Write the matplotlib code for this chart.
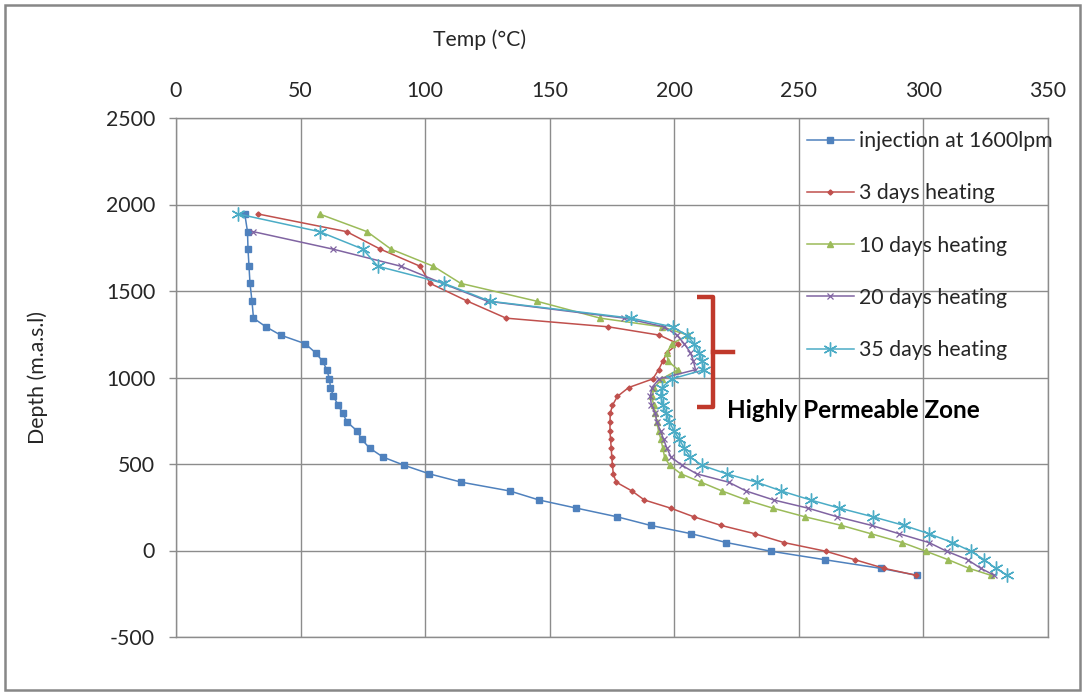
import matplotlib
matplotlib.use("Agg")
import matplotlib.pyplot as plt
from matplotlib.patches import Rectangle

plt.rcParams['font.family'] = ['Lato', 'DejaVu Sans']
plt.rcParams['axes.unicode_minus'] = False

# depth (m.a.s.l) shared by every profile
depth = [1945, 1843, 1742, 1643, 1544, 1441, 1343, 1293, 1245, 1195, 1143,
         1094, 1045, 992, 942, 891, 840, 793, 742, 690, 643, 592, 540, 493,
         443, 395, 344, 292, 245, 195, 145, 97, 46, -4, -53, -103, -143]

inj_1600 = [27.6, 28.7, 28.9, 29.3, 29.7, 30.5, 31.1, 36.1, 42.0, 51.9, 56.0,
            58.9, 60.5, 61.6, 62.0, 63.2, 65.1, 66.9, 68.7, 72.8, 74.5, 77.7,
            83.1, 91.5, 101.7, 114.5, 134.0, 145.7, 160.7, 177.0, 190.5, 206.8,
            220.9, 238.7, 260.3, 282.8, 297.3]
heat_3d = [33.0, 68.5, 82.0, 98.0, 102.0, 117.0, 132.5, 173.5, 194.0, 201.5,
           197.0, 195.4, 193.7, 191.4, 181.7, 177.2, 175.2, 174.3, 174.2,
           174.2, 174.4, 174.7, 174.9, 175.2, 175.5, 176.7, 183.0, 188.0,
           198.5, 207.8, 218.8, 232.3, 244.0, 260.7, 272.4, 284.2, 296.9]
heat_10d = [57.6, 76.7, 86.3, 103.3, 114.3, 144.8, 170.3, 195.0, 205.5, 199.0,
            197.0, 197.5, 201.5, 195.0, 192.0, 191.0, 191.7, 192.4, 193.0,
            193.7, 194.6, 195.4, 196.1, 198.1, 202.7, 210.7, 219.2, 228.9,
            239.5, 252.4, 267.1, 278.9, 291.5, 300.9, 309.9, 318.3, 327.0]
# 20 days profile starts one station lower
heat_20d = [31.0, 63.0, 90.3, 107.0, 125.0, 180.0, 196.0, 201.0, 204.0,
            206.5, 207.7, 208.5, 194.0, 191.0, 190.4, 190.8, 192.4, 193.0,
            194.5, 195.7, 197.0, 198.7, 203.0, 209.0, 221.8, 228.8, 239.9,
            253.6, 265.4, 279.2, 290.2, 302.2, 309.3, 317.7, 323.0, 328.4]
heat_35d = [25.0, 57.6, 75.0, 81.0, 107.6, 126.0, 182.7, 199.3, 205.0, 208.0,
            210.0, 211.0, 212.0, 199.0, 195.0, 194.5, 195.5, 196.8, 198.0,
            200.0, 202.0, 204.0, 206.4, 211.0, 221.0, 233.0, 243.0, 254.7,
            266.3, 279.7, 292.2, 302.2, 311.6, 319.0, 324.4, 329.0, 333.7]

labels = ['injection at 1600lpm', '3 days heating', '10 days heating',
          '20 days heating', '35 days heating']

FS = 15.3
GRID = '#8c8c8c'
TXT = '#262626'

fig = plt.figure(figsize=(10.89, 7.0), dpi=100)
ax = fig.add_axes([176 / 1089, 1 - 637 / 700, (1048 - 176) / 1089, (637 - 118) / 700])

ax.plot(inj_1600, depth, color='#4F81BD', lw=1.1, marker='s', ms=4.3, label=labels[0])
ax.plot(heat_3d, depth, color='#C0504D', lw=1.1, marker='D', ms=2.6, label=labels[1])
ax.plot(heat_10d, depth, color='#9BBB59', lw=1.1, marker='^', ms=4.0, label=labels[2])
ax.plot(heat_20d, depth[1:], color='#8064A2', lw=1.1, marker='x', ms=4.5, mew=0.9,
        label=labels[3])
ax.plot(heat_35d, depth, color='#4BACC6', lw=1.1, marker=(6, 2, 0), ms=10, mew=1.0,
        label=labels[4])

ax.set_xlim(0, 350)
ax.set_ylim(-500, 2500)
ax.set_xticks(range(0, 351, 50))
ax.set_yticks(range(-500, 2501, 500))
ax.xaxis.tick_top()
ax.tick_params(axis='x', length=0, pad=12.5, labelsize=FS)
ax.tick_params(axis='y', length=5, width=1, color=GRID, pad=10, labelsize=FS)
for lab in ax.get_xticklabels() + ax.get_yticklabels():
    lab.set_color(TXT)
ax.grid(True, color=GRID, lw=1.0)
for sp in ax.spines.values():
    sp.set_color(GRID)
    sp.set_linewidth(1.0)

fig.text(480 / 1089, 1 - 40 / 700, 'Temp (°C)', ha='center', va='center',
         fontsize=FS, color=TXT)
fig.text(38 / 1089, 1 - 378 / 700, 'Depth (m.a.s.l)', ha='center', va='center',
         rotation=90, fontsize=FS, color=TXT)

leg = ax.legend(loc='upper left', bbox_to_anchor=((807 - 176) / 872, 1 - (131 - 118) / 519),
                frameon=False, fontsize=FS, handlelength=2.2, handletextpad=0.25,
                labelspacing=1.52, borderaxespad=0, borderpad=0)
for t in leg.get_texts():
    t.set_color(TXT)

# bracket marking the highly permeable zone
bx0, bx1, bx2 = 209.2, 215.6, 223.6
by_top, by_mid, by_bot = 1468, 1145, 832
ax.plot([bx0, bx1, bx1, bx0], [by_top, by_top, by_bot, by_bot], color='#C0392B',
        lw=3.2, solid_joinstyle='round', solid_capstyle='butt', zorder=5)
ax.plot([bx1, bx2], [by_mid, by_mid], color='#C0392B', lw=3.2, zorder=5)
ax.text(221.3, 808, 'Highly Permeable Zone', fontsize=17.5, fontweight='bold',
        ha='left', va='center', color='black', zorder=6)

fig.add_artist(Rectangle((5 / 1089, 10 / 700), 1075 / 1089, 685 / 700,
                         transform=fig.transFigure, fill=False, edgecolor='#878787',
                         lw=1.8))

fig.savefig('out.png', dpi=100)
